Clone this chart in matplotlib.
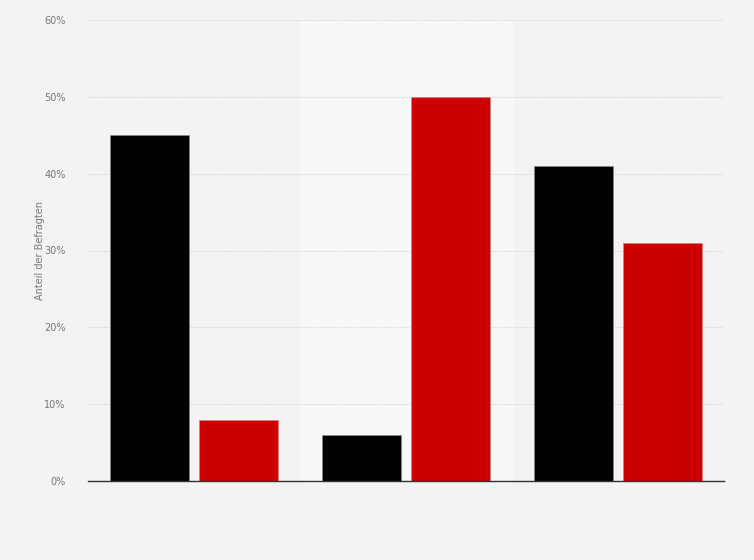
import numpy as np
import matplotlib.pyplot as plt
from matplotlib.ticker import FuncFormatter

# data
categories = ["A", "B", "C"]
series_black = [45, 6, 41]
series_red = [8, 50, 31]
y_ticks = [0, 10, 20, 30, 40, 50, 60]

bg = "#f3f3f3"
fig = plt.figure(figsize=(7.54, 5.6), dpi=100)
fig.patch.set_facecolor(bg)
ax = fig.add_axes([88 / 754, 79 / 560, 636 / 754, 461 / 560])
ax.set_facecolor(bg)

x = np.arange(len(categories))
w = 0.375
off = 0.21

# highlighted middle column
ax.axvspan(0.5, 1.5, color="#f8f8f8", zorder=0)

ax.bar(x - off, series_black, w, color="#000000", edgecolor="#888888", linewidth=0.5, zorder=3)
ax.bar(x + off, series_red, w, color="#cc0000", edgecolor="#e08080", linewidth=0.5, zorder=3)

ax.set_xlim(-0.5, 2.5)
ax.set_ylim(0, 60)
ax.set_yticks(y_ticks)
ax.yaxis.set_major_formatter(FuncFormatter(lambda v, p: f"{int(v)}%"))
ax.set_xticks([])
ax.grid(axis="y", color="#d8d8d8", linestyle=(0, (1, 1)), linewidth=0.8, zorder=1)
ax.tick_params(axis="y", length=0, labelsize=7, labelcolor="#777777", pad=16)

for s in ["top", "right", "left"]:
    ax.spines[s].set_visible(False)
ax.spines["bottom"].set_color("#333333")
ax.spines["bottom"].set_linewidth(1.0)
ax.spines["bottom"].set_zorder(4)

fig.text(40 / 754, 1 - 250 / 560, "Anteil der Befragten", rotation=90,
         ha="center", va="center", fontsize=7, color="#777777")

fig.savefig("out.png", dpi=100, facecolor=bg)
